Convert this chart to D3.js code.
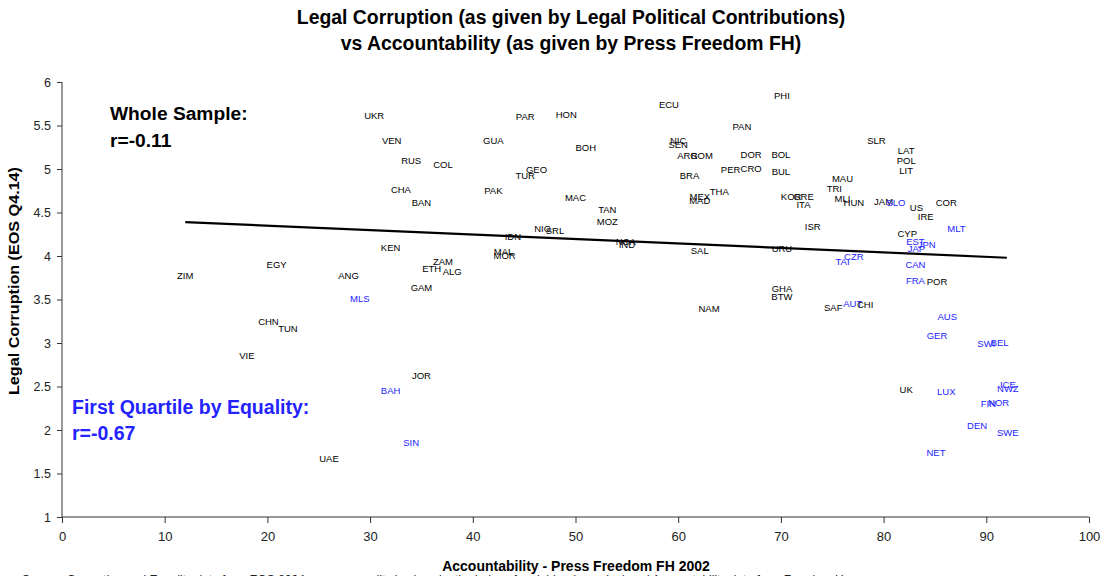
<!DOCTYPE html>
<html>
<head>
<meta charset="utf-8">
<script src="https://cdn.jsdelivr.net/npm/d3@7"></script>
<style>
  body { margin: 0; background: #fff; }
  svg { display: block; }
</style>
</head>
<body>
<svg id="chart" width="1107" height="576"></svg>
<script>
// Country codes, x (Press Freedom FH 2002), y (Legal Corruption EOS Q4.14)
const codes = ["ZIM","EGY","ANG","MLS","CHN","TUN","VIE","UAE","UKR","VEN","RUS","COL","CHA","BAN","KEN","ZAM","ETH","ALG","GAM","JOR","BAH","SIN",
  "PAR","HON","GUA","BOH","TUR","GEO","PAK","MAC","TAN","MOZ","NIG","SRL","IDN","MAL","MOR","NCA","IND",
  "ECU","PHI","PAN","NIC","SEN","ARG","ROM","DOR","BOL","PER","CRO","BUL","BRA","MEX","MAD","THA","KOR","GRE","ITA",
  "MAU","TRI","MLI","HUN","ISR","SLR","LAT","POL","LIT","JAM","SLO","US","IRE","COR","MLT","CYP","EST","JPN","JAP","CAN","FRA","POR",
  "TAI","CZR","SAL","URU","GHA","BTW","NAM","SAF","AUT","CHI","AUS","GER","SWI","BEL","UK","LUX","ICE","NWZ","FIN","NOR","DEN","SWE","NET"];
const xVals = [12.0,20.9,27.9,29.0,20.1,22.0,18.0,26.0,30.4,32.1,34.0,37.1,33.0,35.0,32.0,37.1,36.0,38.0,35.0,35.0,32.0,34.0,
  45.1,49.1,42.0,51.0,45.1,46.2,42.0,50.0,53.1,53.1,46.8,48.0,43.9,43.0,43.1,54.9,55.0,
  59.1,70.1,66.2,60.0,60.0,60.9,62.3,67.1,70.0,65.1,67.1,70.0,61.1,62.1,62.1,64.0,71.0,72.2,72.2,
  76.0,75.2,76.0,77.1,73.1,79.3,82.2,82.2,82.2,80.0,81.2,83.2,84.1,86.1,87.1,82.3,83.1,84.2,83.2,83.1,83.1,85.2,
  76.0,77.1,62.1,70.1,70.1,70.1,63.0,75.1,77.0,78.2,86.2,85.2,90.0,91.3,82.2,86.1,92.1,92.1,90.2,91.2,89.1,92.1,85.1];
const yVals = [3.77,3.90,3.77,3.51,3.24,3.17,2.85,1.67,5.61,5.33,5.09,5.05,4.76,4.61,4.10,3.94,3.86,3.82,3.64,2.63,2.45,1.86,
  5.60,5.63,5.33,5.25,4.92,4.99,4.75,4.67,4.53,4.40,4.31,4.29,4.22,4.05,4.00,4.17,4.13,
  5.74,5.84,5.49,5.32,5.28,5.15,5.15,5.16,5.16,4.99,5.00,4.97,4.92,4.68,4.64,4.74,4.68,4.68,4.59,
  4.89,4.77,4.66,4.61,4.34,5.32,5.21,5.09,4.98,4.62,4.61,4.56,4.45,4.61,4.31,4.26,4.17,4.13,4.08,3.90,3.72,3.71,
  3.93,3.99,4.06,4.08,3.62,3.53,3.39,3.41,3.45,3.44,3.30,3.08,2.99,3.00,2.46,2.44,2.52,2.48,2.30,2.31,2.05,1.97,1.74];
// Countries in the first quartile by equality (shown in blue)
const firstQuartile = ["MLS","BAH","SIN","SLO","MLT","EST","JPN","JAP","CAN","FRA","TAI","CZR","AUT","AUS","GER","SWI","BEL","LUX","ICE","NWZ","FIN","NOR","DEN","SWE","NET"];
// Fitted trend line endpoints (whole sample)
const trendX = [12, 92];
const trendY = [4.39, 3.98];
const xTicks = [0,10,20,30,40,50,60,70,80,90,100];
const yTicks = [1,1.5,2,2.5,3,3.5,4,4.5,5,5.5,6];

const svg = d3.select("#chart");
const x = d3.scaleLinear().domain([0,100]).range([62,1089]);
const y = d3.scaleLinear().domain([1,6]).range([517,82]);
const blue = "#2323ff";
const font = "Liberation Sans, Arial, sans-serif";
const narrow = "Liberation Sans Narrow, Arial Narrow, sans-serif";

// Title
svg.append("text").attr("x",571).attr("y",24).attr("text-anchor","middle")
  .attr("font-family",font).attr("font-weight","bold").attr("font-size",19.4)
  .text("Legal Corruption (as given by Legal Political Contributions)");
svg.append("text").attr("x",571).attr("y",50).attr("text-anchor","middle")
  .attr("font-family",font).attr("font-weight","bold").attr("font-size",19.4)
  .text("vs Accountability (as given by Press Freedom FH)");

// Axes
const yAxis = d3.axisLeft(y).tickValues(yTicks).tickSize(5).tickPadding(6).tickFormat(d3.format("~g"));
const gy = svg.append("g").attr("transform","translate(62,0)").call(yAxis);
gy.selectAll("text").attr("font-family",font).attr("font-size",12.5).attr("fill","#222");
gy.selectAll("line, path").attr("stroke","#333");
gy.select(".domain").attr("d","M0,82V517");

const xAxis = d3.axisBottom(x).tickValues(xTicks).tickSize(6).tickPadding(9);
const gx = svg.append("g").attr("transform","translate(0,517)").call(xAxis);
gx.selectAll("text").attr("font-family",narrow).attr("font-size",13).attr("fill","#222");
gx.selectAll("line, path").attr("stroke","#333");
gx.select(".domain").attr("d","M62,0H1089");

// Axis titles
svg.append("text").attr("transform","translate(19,281) rotate(-90)").attr("text-anchor","middle")
  .attr("font-family",font).attr("font-weight","bold").attr("font-size",14)
  .attr("textLength",228).attr("lengthAdjust","spacingAndGlyphs")
  .text("Legal Corruption (EOS Q4.14)");
svg.append("text").attr("x",576).attr("y",571).attr("text-anchor","middle")
  .attr("font-family",narrow).attr("font-weight","bold").attr("font-size",14)
  .text("Accountability - Press Freedom FH 2002");
// Source note (cut off at the bottom edge, as in the original)
svg.append("text").attr("x",22).attr("y",584)
  .attr("font-family",font).attr("font-size",12).attr("fill","#222")
  .text("Source: Corruption and Equality data from EOS 2004 survey; equality is given by the index of variables (grouping) and Accountability data from Freedom House");

// Trend line
svg.append("line")
  .attr("x1",x(trendX[0])).attr("y1",y(trendY[0]))
  .attr("x2",x(trendX[1])).attr("y2",y(trendY[1]))
  .attr("stroke","#000").attr("stroke-width",2.2);

// Data labels
const data = codes.map((c,i)=>({code:c, x:xVals[i], y:yVals[i], q:firstQuartile.includes(c)}));
svg.append("g").selectAll("text").data(data).join("text")
  .attr("x",d=>x(d.x)).attr("y",d=>y(d.y)).attr("dy","0.35em")
  .attr("text-anchor","middle")
  .attr("font-family",font).attr("font-size",9.5)
  .attr("fill",d=>d.q?blue:"#000")
  .text(d=>d.code);

// Annotations
svg.append("text").attr("x",110).attr("y",120)
  .attr("font-family",font).attr("font-weight","bold").attr("font-size",19.2)
  .text("Whole Sample:");
svg.append("text").attr("x",110).attr("y",147)
  .attr("font-family",font).attr("font-weight","bold").attr("font-size",19.2)
  .text("r=-0.11");
svg.append("text").attr("x",72).attr("y",414)
  .attr("font-family",font).attr("font-weight","bold").attr("font-size",19.5)
  .attr("fill",blue).text("First Quartile by Equality:");
svg.append("text").attr("x",72).attr("y",440)
  .attr("font-family",font).attr("font-weight","bold").attr("font-size",19.5)
  .attr("fill",blue).text("r=-0.67");
</script>
</body>
</html>
